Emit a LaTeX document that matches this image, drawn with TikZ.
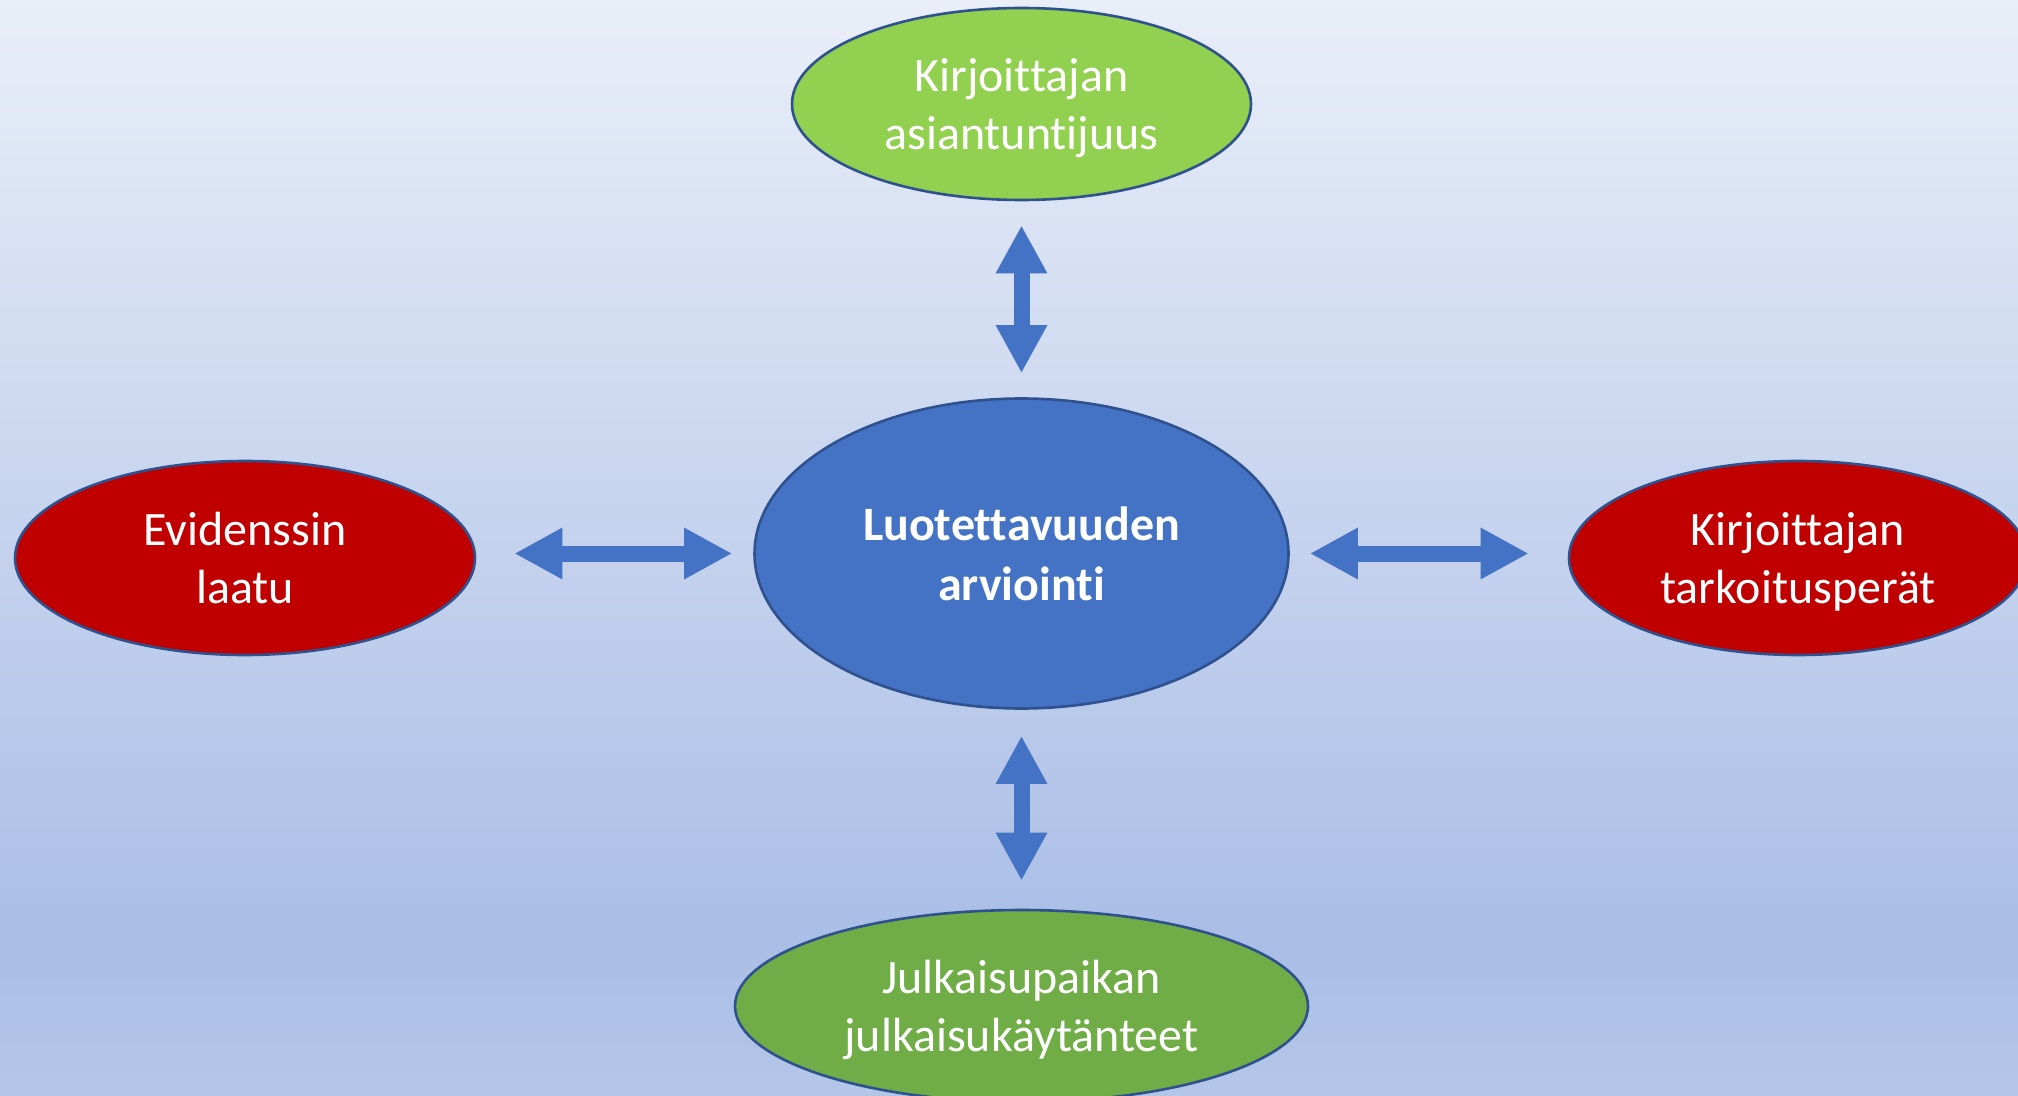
\documentclass[tikz,border=0pt]{standalone}
\usepackage{fontspec}
\setmainfont{Carlito}[Ligatures={NoCommon}]
\usetikzlibrary{shapes.geometric,arrows.meta}
\definecolor{bgtop}{HTML}{E9EEF8}
\definecolor{bgdark}{HTML}{AABEE6}
\definecolor{bgbot}{HTML}{B4C6E8}
\definecolor{accblue}{HTML}{4472C4}
\definecolor{edgeblue}{HTML}{2F528F}
\definecolor{lightgreen}{HTML}{92D050}
\definecolor{darkgreen}{HTML}{70AD47}
\definecolor{darkred}{HTML}{C00000}
\tikzset{
  bubble/.style={ellipse, draw=edgeblue, line width=1.3pt, inner sep=0pt,
    text=white, align=center, text depth=0pt, font=\fontsize{24pt}{29pt}\selectfont},
  blockarrow/.style={draw=accblue, line width=8pt,
    {Triangle[length=24pt,width=24pt]}-{Triangle[length=24pt,width=24pt]}}
}
\begin{document}
\begin{tikzpicture}[x=0.5pt,y=-0.5pt]
\useasboundingbox (0,0) rectangle (2018,1096);
\shade[top color=bgtop, bottom color=bgdark] (0,0) rectangle (2018,940);
\shade[top color=bgdark, bottom color=bgbot] (0,939) rectangle (2018,1096);

\node[bubble, fill=accblue, minimum width=267pt, minimum height=155pt,
  font=\fontsize{24pt}{30pt}\selectfont\bfseries] (c) at (1021.5,553.5) {Luotettavuuden\\arviointi};
\node[bubble, fill=lightgreen, minimum width=229.5pt, minimum height=96pt] (t) at (1021.5,104) {Kirjoittajan\\asiantuntijuus};
\node[bubble, fill=darkred, minimum width=230pt, minimum height=97pt] (l) at (245,558) {Evidenssin\\laatu};
\node[bubble, fill=darkred, minimum width=229pt, minimum height=97pt] (r) at (1798,558) {Kirjoittajan\\tarkoitusperät};
\node[bubble, fill=darkgreen, minimum width=286.5pt, minimum height=96pt] (b) at (1021.5,1006) {Julkaisupaikan\\julkaisukäytänteet};

\draw[blockarrow, shorten <=12pt, shorten >=12pt] (c.north) -- (t.south);
\draw[blockarrow, shorten <=13pt, shorten >=14pt] (c.south) -- (b.north);
\draw[blockarrow, shorten <=10.5pt, shorten >=19pt] (c.west) -- (l.east |- c.west);
\draw[blockarrow, shorten <=10pt, shorten >=19.5pt] (c.east) -- (r.west |- c.east);
\end{tikzpicture}
\end{document}
